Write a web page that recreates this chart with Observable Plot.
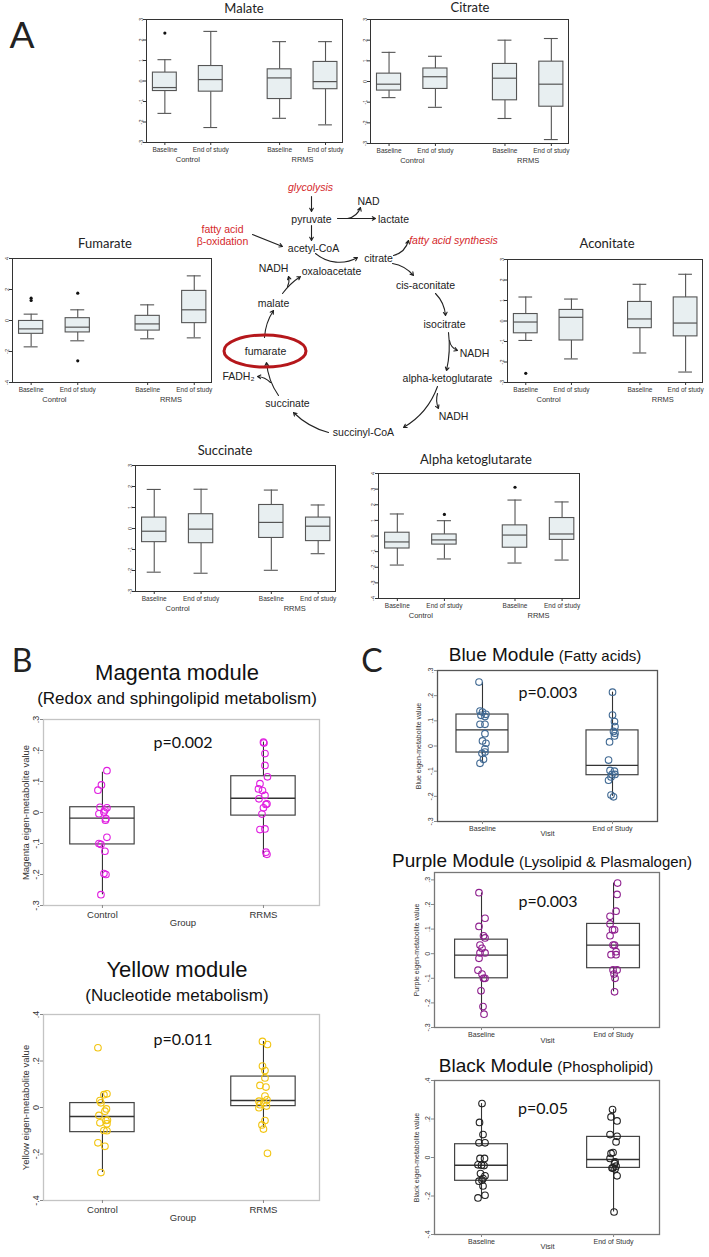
<!DOCTYPE html>
<html>
<head>
<meta charset="utf-8">
<script src="https://cdn.jsdelivr.net/npm/d3@7"></script>
<script src="https://cdn.jsdelivr.net/npm/@observablehq/plot@0.6"></script>
<style>
  html, body { margin: 0; padding: 0; background: #fff; }
  #root { position: relative; width: 709px; height: 1257px; overflow: hidden; background: #fff;
          font-family: "Liberation Sans", Arial, sans-serif; color: #222; }
  #root svg { position: absolute; max-width: none; }
</style>
</head>
<body>
<div id="root"></div>
<script>
// ---------------- DATA ----------------
// Panel A: box statistics [lower whisker, Q1, median, Q3, upper whisker] per slot
const cohorts = ["Control", "RRMS"];
const visits = ["Baseline", "End of study"];

const malateStats = [
  [-1.58, -0.49, -0.32, 0.41, 1.04],
  [-2.27, -0.52, 0.07, 0.73, 2.42],
  [-1.82, -0.88, 0.15, 0.57, 1.92],
  [-2.14, -0.40, -0.03, 0.93, 1.92]
];
const malateOutliers = [[0, 2.34]];

const citrateStats = [
  [-0.78, -0.44, -0.13, 0.38, 1.41],
  [-1.25, -0.36, 0.23, 0.63, 1.22],
  [-1.79, -0.91, 0.16, 0.85, 2.00],
  [-2.81, -1.22, -0.13, 0.96, 2.08]
];
const citrateOutliers = [];

const fumarateStats = [
  [-1.70, -0.86, -0.54, -0.03, 0.41],
  [-1.31, -0.77, -0.43, 0.15, 0.69],
  [-1.18, -0.65, -0.22, 0.30, 1.01],
  [-1.12, -0.17, 0.69, 1.91, 2.88]
];
const fumarateOutliers = [[0, 1.44], [0, 1.29], [1, 1.76], [1, -2.6]];

const aconitateStats = [
  [-0.95, -0.60, -0.05, 0.34, 1.17],
  [-1.85, -0.95, 0.18, 0.54, 1.07],
  [-1.56, -0.35, 0.10, 0.93, 1.79],
  [-2.49, -0.75, -0.10, 1.15, 2.28]
];
const aconitateOutliers = [[0, -2.55]];

const succinateStats = [
  [-2.08, -0.65, -0.13, 0.52, 1.86],
  [-2.13, -0.70, -0.03, 0.68, 1.87],
  [-1.99, -0.45, 0.29, 1.12, 1.83],
  [-1.20, -0.60, 0.11, 0.52, 1.12]
];
const succinateOutliers = [];

const akgStats = [
  [-1.86, -0.80, -0.38, 0.21, 1.41],
  [-1.47, -0.55, -0.25, 0.10, 0.98],
  [-1.73, -0.75, 0.06, 0.68, 2.30],
  [-1.54, -0.25, 0.13, 1.15, 2.18]
];
const akgOutliers = [[1, 1.38], [2, 3.12]];

// Panel B / C: box statistics and individual points [value, horizontal jitter (-1..1)]
const groupCats = ["Control", "RRMS"];
const visitCats = ["Baseline", "End of Study"];

const magentaStats = [[-0.265, -0.103, -0.018, 0.017, 0.13], [-0.144, -0.01, 0.046, 0.117, 0.227]];
const magentaControl = [[0.135,0.9],[0.089,-0.2],[0.072,-0.9],[0.017,-0.5],[0.015,0.9],[0.008,0.5],[0.002,0.3],[-0.004,-0.7],[-0.02,0.7],[-0.025,0.6],[-0.08,0.9],[-0.1,-0.7],[-0.103,-0.3],[-0.125,0.5],[-0.197,0.3],[-0.2,0.7],[-0.265,-0.3]];
const magentaRRMS = [[0.227,0],[0.224,0.1],[0.19,0.3],[0.152,0.3],[0.115,0.8],[0.093,-0.7],[0.076,-1],[0.071,-0.2],[0.055,0.3],[0.044,-0.9],[0.028,0.7],[0.026,0.5],[0.015,0],[-0.005,-0.3],[-0.055,-0.7],[-0.053,0.3],[-0.128,0.5],[-0.135,0.7]];

const yellowStats = [[-0.28, -0.106, -0.039, 0.019, 0.059], [-0.085, 0.006, 0.03, 0.133, 0.284]];
const yellowControl = [[0.257,-0.9],[0.059,0.9],[0.055,0.3],[0.03,-0.5],[0.02,-0.3],[-0.006,0.8],[-0.016,0.5],[-0.034,-0.7],[-0.054,1],[-0.056,0.7],[-0.066,-0.5],[-0.07,0.9],[-0.099,0.3],[-0.1,0.9],[-0.152,-0.9],[-0.167,0.5],[-0.28,-0.3]];
const yellowRRMS = [[0.284,-0.2],[0.271,0.8],[0.178,-0.2],[0.159,0.3],[0.127,0.3],[0.095,-0.7],[0.088,0.5],[0.049,0.3],[0.033,0.7],[0.027,-0.9],[0.02,0.1],[0.012,-0.7],[0.006,0.6],[-0.001,-0.9],[-0.056,0.3],[-0.075,-0.3],[-0.093,0],[-0.197,0.8]];

const blueStats = [[-0.068, -0.026, 0.064, 0.125, 0.252], [-0.2, -0.116, -0.077, 0.062, 0.214]];
const blueBaseline = [[0.254,-0.7],[0.139,-0.5],[0.135,0],[0.126,0.7],[0.122,-0.3],[0.117,0.5],[0.086,-0.5],[0.086,0.5],[0.049,0.5],[0.02,0],[0.011,0.7],[-0.011,0.5],[-0.029,-0.1],[-0.024,0.5],[-0.053,0.2],[-0.069,-0.5]];
const blueEnd = [[0.214,0],[0.123,0],[0.097,0.4],[0.077,0.5],[0.058,0.2],[0.051,0.5],[0.04,0.4],[0.016,-0.6],[-0.056,-0.8],[-0.097,-0.5],[-0.1,0.4],[-0.113,-0.1],[-0.113,0.5],[-0.123,-0.3],[-0.136,-0.8],[-0.195,-0.3],[-0.202,0.2]];

const purpleStats = [[-0.236, -0.1, -0.006, 0.057, 0.247], [-0.155, -0.059, 0.035, 0.121, 0.287]];
const purpleBaseline = [[0.248,-0.5],[0.144,0.7],[0.111,-0.5],[0.073,0.4],[0.064,0.7],[0.035,-0.3],[0.022,0.1],[0.003,-0.3],[0.003,0.7],[-0.019,-0.5],[-0.067,-0.7],[-0.083,0.1],[-0.1,0.4],[-0.1,0.7],[-0.151,-0.1],[-0.215,0.3],[-0.246,0.5]];
const purpleEnd = [[0.287,0.8],[0.241,0.7],[0.173,0.5],[0.152,-0.7],[0.121,-0.7],[0.097,-0.2],[0.097,0.2],[0.073,-0.7],[0.035,-0.1],[0.035,0.2],[0.008,0.5],[-0.004,-0.5],[-0.004,0.5],[-0.066,-0.1],[-0.066,0.7],[-0.083,0.1],[-0.1,0.3],[-0.155,0.2]];

const blackStats = [[-0.213, -0.121, -0.04, 0.069, 0.28], [-0.283, -0.054, -0.01, 0.107, 0.249]];
const blackBaseline = [[0.28,0.1],[0.182,-0.4],[0.119,0.3],[0.076,-0.5],[0.076,0.7],[-0.005,-0.3],[-0.005,0.6],[-0.038,-0.7],[-0.042,0.5],[-0.04,0],[-0.083,-0.2],[-0.095,0.7],[-0.109,0.3],[-0.123,-0.5],[-0.118,0.1],[-0.148,0.3],[-0.196,0.7],[-0.21,-0.7]];
const blackEnd = [[0.249,-0.2],[0.211,-0.5],[0.19,0.7],[0.119,-0.7],[0.11,0.7],[0.081,0.5],[0.021,-0.5],[0.026,-0.1],[-0.005,-0.7],[-0.023,0.3],[-0.031,0.2],[-0.054,-0.1],[-0.045,0.5],[-0.06,0.3],[-0.055,-0.3],[-0.095,0.7],[-0.283,0.1]];

// Pathway schematic (illustration layout)
const pathwayNodes = [
  {label: "pyruvate", x: 311, y: 219}, {label: "lactate", x: 393, y: 219}, {label: "NAD", x: 368, y: 201},
  {label: "acetyl-CoA", x: 313, y: 248}, {label: "citrate", x: 378, y: 258}, {label: "oxaloacetate", x: 331, y: 271},
  {label: "NADH", x: 273, y: 268}, {label: "malate", x: 273, y: 303}, {label: "cis-aconitate", x: 425, y: 285},
  {label: "isocitrate", x: 444, y: 324}, {label: "NADH", x: 474, y: 353}, {label: "alpha-ketoglutarate", x: 447, y: 378},
  {label: "NADH", x: 453, y: 416}, {label: "succinyl-CoA", x: 363, y: 432}, {label: "succinate", x: 287, y: 403},
  {label: "FADH\u2082", x: 238, y: 376}, {label: "fumarate", x: 265, y: 351}
];
const pathwayRedItalic = [
  {label: "glycolysis", x: 310, y: 187}, {label: "fatty acid synthesis", x: 453, y: 240}
];
const pathwayRed = [{label: "fatty acid\n\u03b2-oxidation", x: 222, y: 235}];
const pathwayArrows = [
  {x1: 311, y1: 196, x2: 311, y2: 211, bend: 0},
  {x1: 337, y1: 218, x2: 375, y2: 218, bend: 0},
  {x1: 347, y1: 218, x2: 360, y2: 207, bend: -30},
  {x1: 311, y1: 225, x2: 311, y2: 240, bend: 0},
  {x1: 252, y1: 234, x2: 282, y2: 246, bend: 0},
  {x1: 315, y1: 253, x2: 357, y2: 257, bend: -35},
  {x1: 393, y1: 255, x2: 408, y2: 240, bend: -30},
  {x1: 392, y1: 263, x2: 413, y2: 275, bend: 20},
  {x1: 435, y1: 293, x2: 445, y2: 315, bend: 20},
  {x1: 448, y1: 332, x2: 446, y2: 370, bend: 10},
  {x1: 449, y1: 340, x2: 457, y2: 350, bend: -30},
  {x1: 437, y1: 386, x2: 403, y2: 427, bend: 20},
  {x1: 437, y1: 393, x2: 438, y2: 408, bend: -20},
  {x1: 328, y1: 432, x2: 293, y2: 412, bend: 15},
  {x1: 278, y1: 395, x2: 266, y2: 362, bend: 15},
  {x1: 270, y1: 382, x2: 257, y2: 376, bend: -20},
  {x1: 264, y1: 337, x2: 273, y2: 310, bend: 15},
  {x1: 282, y1: 293, x2: 300, y2: 276, bend: 10},
  {x1: 287, y1: 286, x2: 288, y2: 276, bend: -20}
];

// ---------------- HELPERS ----------------
const root = document.getElementById("root");
function put(svg, left, top) {
  svg.style.left = left + "px"; svg.style.top = top + "px";
  root.appendChild(svg);
}
function label(html, cx, cy, css) {
  const d = document.createElement("div");
  d.innerHTML = html;
  d.style.cssText = "position:absolute;white-space:nowrap;line-height:1;transform:translate(-50%,-50%);left:" + cx + "px;top:" + cy + "px;" + (css || "");
  root.appendChild(d);
}
const baseStyle = {background: "transparent", fontFamily: "'Liberation Sans', Arial, sans-serif", color: "#333", overflow: "visible"};

// slot positions derived from cohort / visit structure
const slots = cohorts.flatMap((c, gi) => visits.map((v, vi) => ({cohort: c, visit: v, pos: gi * 2.5 + vi})));

function metabolitePlot(stats, outliers, yDomain, yTicks, [l, t, r, b]) {
  const mL = 12, mR = 2, mT = 2, mB = 26, bw = 0.26, cw = 0.15;
  const rows = stats.map((s, i) => ({pos: slots[i].pos, lo: s[0], q1: s[1], med: s[2], q3: s[3], hi: s[4]}));
  const pts = outliers.map(([i, v]) => ({pos: slots[i].pos, v}));
  const svg = Plot.plot({
    width: r - l + mL + mR, height: b - t + mT + mB,
    marginLeft: mL, marginRight: mR, marginTop: mT, marginBottom: mB,
    style: {...baseStyle, fontSize: "6.5px"},
    x: {domain: [-0.4, 3.87], axis: null},
    y: {domain: yDomain, axis: null},
    marks: [
      Plot.ruleX(rows, {x: "pos", y1: "lo", y2: "q1", stroke: "#555", strokeWidth: 1.1}),
      Plot.ruleX(rows, {x: "pos", y1: "q3", y2: "hi", stroke: "#555", strokeWidth: 1.1}),
      Plot.ruleY(rows, {y: "lo", x1: d => d.pos - cw, x2: d => d.pos + cw, stroke: "#555", strokeWidth: 1.1}),
      Plot.ruleY(rows, {y: "hi", x1: d => d.pos - cw, x2: d => d.pos + cw, stroke: "#555", strokeWidth: 1.1}),
      Plot.rect(rows, {x1: d => d.pos - bw, x2: d => d.pos + bw, y1: "q1", y2: "q3", fill: "#e8eff1", stroke: "#555", strokeWidth: 1.1}),
      Plot.ruleY(rows, {y: "med", x1: d => d.pos - bw, x2: d => d.pos + bw, stroke: "#555", strokeWidth: 1.2}),
      Plot.dot(pts, {x: "pos", y: "v", r: 1.6, fill: "#111", stroke: null}),
      Plot.frame({stroke: "#333", strokeWidth: 1}),
      Plot.axisY({ticks: yTicks, label: null, tickSize: 3, tickPadding: 1, tickRotate: -90, fontSize: 5.5, tickFormat: d => String(d)}),
      Plot.axisX({ticks: slots.map(s => s.pos), label: null, tickSize: 3, tickPadding: 2, fontSize: 6.5,
                  tickFormat: d => (slots.find(s => s.pos === d) || {}).visit}),
      Plot.text(cohorts, {x: (d, i) => i * 2.5 + 0.5, frameAnchor: "bottom", dy: 19, text: d => d, fontSize: 7.5})
    ]
  });
  put(svg, l - mL, t - mT);
}

// SPSS-style tick labels: ".3", "0", "-.1"
const fmtDot = d => {
  if (Math.abs(d) < 1e-9) return "0";
  return (d < 0 ? "-" : "") + Math.abs(d).toFixed(1).replace(/^0/, "");
};

function modulePlot({stats, series, cats, yDomain, yTicks, color, frame: [l, t, r, b], xDomain, spread,
                     frameStroke, yLabel, xTitle, tickFont, catFont, titleFont, yLabelFont, yDx, catPad, xTitleDy}) {
  const mL = l, mR = 6, mT = 4, mB = 22;
  const rows = stats.map((s, i) => ({pos: i, lo: s[0], q1: s[1], med: s[2], q3: s[3], hi: s[4]}));
  const pts = series.flatMap((ser, i) => ser.map(([v, j]) => ({pos: i, v, j})));
  const svg = Plot.plot({
    width: r - l + mL + mR, height: b - t + mT + mB,
    marginLeft: mL, marginRight: mR, marginTop: mT, marginBottom: mB,
    style: {...baseStyle, fontSize: "9px"},
    x: {domain: xDomain, axis: null},
    y: {domain: yDomain, axis: null},
    marks: [
      Plot.frame({stroke: frameStroke, strokeWidth: 1.3}),
      Plot.ruleX(rows, {x: "pos", y1: "lo", y2: "q1", stroke: "#333", strokeWidth: 1.1}),
      Plot.ruleX(rows, {x: "pos", y1: "q3", y2: "hi", stroke: "#333", strokeWidth: 1.1}),
      Plot.rect(rows, {x1: d => d.pos - 0.2, x2: d => d.pos + 0.2, y1: "q1", y2: "q3", fill: "none", stroke: "#444", strokeWidth: 1.2}),
      Plot.ruleY(rows, {y: "med", x1: d => d.pos - 0.2, x2: d => d.pos + 0.2, stroke: "#333", strokeWidth: 1.4}),
      Plot.dot(pts, {x: d => d.pos + d.j * spread, y: "v", r: 3.3, stroke: color, strokeWidth: 1.1, fill: "none"}),
      Plot.axisY({ticks: yTicks, label: null, tickFormat: fmtDot, tickRotate: -90, tickSize: 3, tickPadding: 2, fontSize: tickFont, stroke: "#888"}),
      Plot.axisX({ticks: [0, 1], label: null, tickFormat: d => cats[d], tickSize: 3, tickPadding: catPad, fontSize: catFont, stroke: "#888"}),
      Plot.text([xTitle], {x: 0.5, frameAnchor: "bottom", dy: xTitleDy, fontSize: titleFont, text: d => d}),
      Plot.text([yLabel], {frameAnchor: "left", textAnchor: "middle", dx: yDx, rotate: -90, fontSize: yLabelFont, text: d => d})
    ]
  });
  put(svg, l - mL, t - mT);
}

// ---------------- PANEL A ----------------
label("A", 22, 33, "font-family:Lato,sans-serif;font-size:37px;");
const titleCss = "font-family:Lato,'Open Sans',sans-serif;font-size:13px;color:#222;";
label("Malate", 244, 8, titleCss);
label("Citrate", 470, 7, titleCss);
label("Fumarate", 105, 243, titleCss);
label("Aconitate", 607, 243, titleCss);
label("Succinate", 225, 450, titleCss);
label("Alpha ketoglutarate", 476, 459, titleCss);

const ticks3 = d3.range(-3, 4);
metabolitePlot(malateStats, malateOutliers, [-3, 3], ticks3, [146, 19, 342, 142]);
metabolitePlot(citrateStats, citrateOutliers, [-3, 3], ticks3, [370, 19, 568, 143]);
metabolitePlot(fumarateStats, fumarateOutliers, [-4, 4], [-4, -2, 0, 2, 4], [12, 258, 211, 382]);
metabolitePlot(aconitateStats, aconitateOutliers, [-3, 3], ticks3, [507, 259, 702, 382]);
metabolitePlot(succinateStats, succinateOutliers, [-3, 3], ticks3, [135, 465, 335, 591]);
metabolitePlot(akgStats, akgOutliers, [-4, 4], d3.range(-4, 5), [378, 473, 579, 598]);

// Pathway schematic
{
  const pw = Plot.plot({
    width: 330, height: 265, margin: 0,
    style: {...baseStyle, fontSize: "10.5px"},
    x: {domain: [190, 520], axis: null},
    y: {domain: [180, 445], reverse: true, axis: null},
    marks: [
      ...[...new Set(pathwayArrows.map(a => a.bend))].map(bend =>
        Plot.arrow(pathwayArrows.filter(a => a.bend === bend), {x1: "x1", y1: "y1", x2: "x2", y2: "y2", bend, headLength: 5, strokeWidth: 1.1, stroke: "#222"})),
      Plot.text(pathwayNodes, {x: "x", y: "y", text: "label", fontSize: 10.5, fill: "#222"}),
      Plot.text(pathwayRedItalic, {x: "x", y: "y", text: "label", fontSize: 10.5, fill: "#d4282b", fontStyle: "italic"}),
      Plot.text(pathwayRed, {x: "x", y: "y", text: "label", fontSize: 10.5, fill: "#d4282b", lineHeight: 1.15}),
      (index, scales) => d3.create("svg:ellipse")
        .attr("cx", scales.x(265)).attr("cy", scales.y(351))
        .attr("rx", 41).attr("ry", 16).attr("fill", "none")
        .attr("stroke", "#b5171b").attr("stroke-width", 3).node()
    ]
  });
  put(pw, 190, 180);
}

// ---------------- PANEL B ----------------
label("B", 22, 660, "font-family:Lato,sans-serif;font-size:32px;");
const bTitle = "font-family:'Liberation Sans',Arial,sans-serif;font-size:22px;color:#111;";
const bSub = "font-family:'Liberation Sans',Arial,sans-serif;font-size:17px;color:#111;";
const pCss = "font-family:Lato,sans-serif;font-size:16px;color:#111;";
label("Magenta module", 177, 673, bTitle);
label("(Redox and sphingolipid metabolism)", 177, 698, bSub);
label("p=0.002", 183, 742, pCss);
modulePlot({stats: magentaStats, series: [magentaControl, magentaRRMS], cats: groupCats,
  yDomain: [-0.3, 0.3], yTicks: d3.range(-3, 4).map(d => d / 10), color: "#e01ee0",
  frame: [43, 719, 319, 905], xDomain: [-0.366, 1.348], spread: 0.031, frameStroke: "#c4c4c4",
  yLabel: "Magenta eigen-metabolite value", xTitle: "Group", tickFont: 9, catFont: 9.5, titleFont: 9.5,
  yLabelFont: 9.5, yDx: -18, catPad: 3, xTitleDy: 20});

label("Yellow module", 177, 970, bTitle);
label("(Nucleotide metabolism)", 177, 995, bSub);
label("p=0.011", 183, 1039, pCss);
modulePlot({stats: yellowStats, series: [yellowControl, yellowRRMS], cats: groupCats,
  yDomain: [-0.4, 0.4], yTicks: [-0.4, -0.2, 0, 0.2, 0.4], color: "#f2c40f",
  frame: [43, 1014, 319, 1200], xDomain: [-0.366, 1.348], spread: 0.031, frameStroke: "#c4c4c4",
  yLabel: "Yellow eigen-metabolite value", xTitle: "Group", tickFont: 9, catFont: 9.5, titleFont: 9.5,
  yLabelFont: 9.5, yDx: -18, catPad: 3, xTitleDy: 20});

// ---------------- PANEL C ----------------
label("C", 372, 660, "font-family:Lato,sans-serif;font-size:32px;");
const cTitle = (a, b) => "<span style='font-size:19px'>" + a + "</span> <span style='font-size:15px'>" + b + "</span>";
const cCss = "font-family:'Liberation Sans',Arial,sans-serif;color:#111;";
label(cTitle("Blue Module", "(Fatty acids)"), 545, 654, cCss);
label("p=0.003", 548, 692, pCss);
modulePlot({stats: blueStats, series: [blueBaseline, blueEnd], cats: visitCats,
  yDomain: [-0.3, 0.3], yTicks: d3.range(-3, 4).map(d => d / 10), color: "#3f6892",
  frame: [437, 670, 657, 821], xDomain: [-0.346, 1.346], spread: 0.038, frameStroke: "#555",
  yLabel: "Blue eigen-metabolite value", xTitle: "Visit", tickFont: 7, catFont: 7, titleFont: 7.5,
  yLabelFont: 7, yDx: -19, catPad: 2, xTitleDy: 14});

label(cTitle("Purple Module", "(Lysolipid &amp; Plasmalogen)"), 542, 860, cCss);
label("p=0.003", 548, 901, pCss);
modulePlot({stats: purpleStats, series: [purpleBaseline, purpleEnd], cats: visitCats,
  yDomain: [-0.3, 0.33], yTicks: d3.range(-3, 4).map(d => d / 10), color: "#8e1f8e",
  frame: [434, 872, 659, 1027], xDomain: [-0.356, 1.348], spread: 0.038, frameStroke: "#777",
  yLabel: "Purple eigen-metabolite value", xTitle: "Visit", tickFont: 7, catFont: 7, titleFont: 7.5,
  yLabelFont: 7, yDx: -18, catPad: 2, xTitleDy: 15});

label(cTitle("Black Module", "(Phospholipid)"), 546, 1065, cCss);
label("p=0.05", 543, 1108, pCss);
modulePlot({stats: blackStats, series: [blackBaseline, blackEnd], cats: visitCats,
  yDomain: [-0.4, 0.4], yTicks: [-0.4, -0.2, 0, 0.2, 0.4], color: "#222",
  frame: [434, 1080, 659, 1234], xDomain: [-0.356, 1.348], spread: 0.038, frameStroke: "#777",
  yLabel: "Black eigen-metabolite value", xTitle: "Visit", tickFont: 7, catFont: 7, titleFont: 7.5,
  yLabelFont: 7, yDx: -18, catPad: 2, xTitleDy: 14});
</script>
</body>
</html>
